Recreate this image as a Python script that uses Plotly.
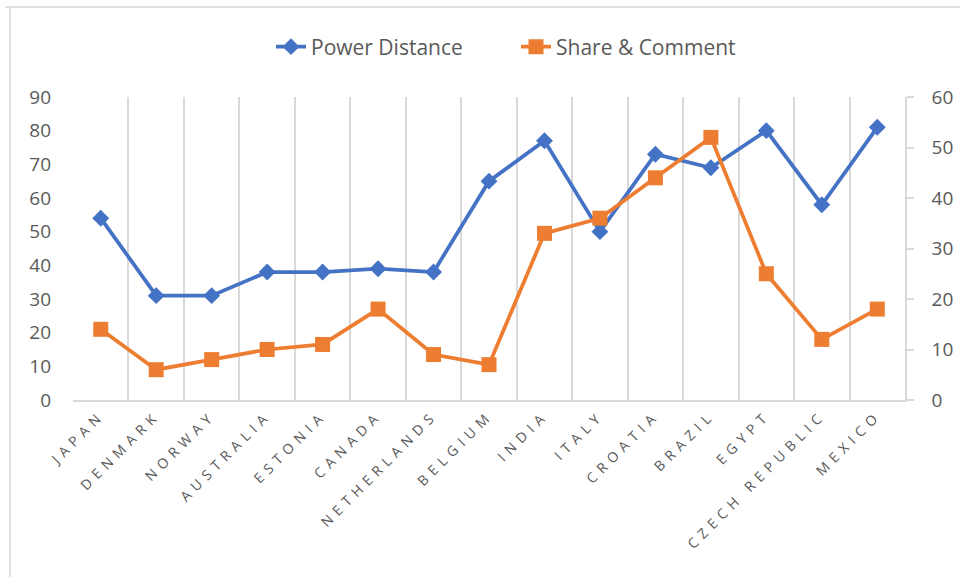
import plotly.graph_objects as go

countries = ["JAPAN", "DENMARK", "NORWAY", "AUSTRALIA", "ESTONIA", "CANADA", "NETHERLANDS",
             "BELGIUM", "INDIA", "ITALY", "CROATIA", "BRAZIL", "EGYPT", "CZECH REPUBLIC", "MEXICO"]
power_distance = [54, 31, 31, 38, 38, 39, 38, 65, 77, 50, 73, 69, 80, 58, 81]
share_comment = [14, 6, 8, 10, 11, 18, 9, 7, 33, 36, 44, 52, 25, 12, 18]

left_ticks = [0, 10, 20, 30, 40, 50, 60, 70, 80, 90]
right_ticks = [0, 10, 20, 30, 40, 50, 60]

BLUE = "#4472C4"
ORANGE = "#ED7D31"
GRID = "#D9D9D9"
TXT = "#595959"
FONT = "Open Sans"

fig = go.Figure()
fig.add_trace(go.Scatter(
    x=countries, y=power_distance, name="Power Distance", mode="lines+markers",
    line=dict(color=BLUE, width=3.75), marker=dict(symbol="diamond", size=13, color=BLUE),
    yaxis="y"))
fig.add_trace(go.Scatter(
    x=countries, y=share_comment, name="Share & Comment", mode="lines+markers",
    line=dict(color=ORANGE, width=3.75), marker=dict(symbol="square", size=15, color=ORANGE),
    yaxis="y2"))

L, R, T, B = 73, 55, 97, 177
W, H = 960, 577
pw, ph = W - L - R, H - T - B

def px_x(p):
    return (p - L) / pw

def px_y(p):
    return (H - B - p) / ph

fig.update_layout(
    width=W, height=H,
    margin=dict(l=L, r=R, t=T, b=B, autoexpand=False),
    paper_bgcolor="white", plot_bgcolor="white",
    font=dict(family=FONT, color=TXT),
    showlegend=True,
    legend=dict(orientation="h", x=px_x(516), xanchor="center", y=px_y(47), yanchor="middle",
                font=dict(size=21, color=TXT, family=FONT), itemwidth=30, traceorder="normal",
                entrywidth=200, entrywidthmode="pixels"),
    xaxis=dict(type="category", tickson="boundaries", showgrid=True, gridcolor=GRID, gridwidth=1.5,
               showline=True, linecolor=GRID, linewidth=1.5, ticks="", tickangle=-45,
               tickfont=dict(size=14, color=TXT, family=FONT), range=[-0.5, 14.5], fixedrange=True),
    yaxis=dict(range=[0, 90], tickvals=left_ticks, showgrid=False, zeroline=False, showline=False,
               ticks="", tickfont=dict(size=19, color=TXT, family=FONT), ticklabelstandoff=21),
    yaxis2=dict(range=[0, 60], tickvals=right_ticks, overlaying="y", side="right", showgrid=False,
                zeroline=False, showline=True, linecolor=GRID, linewidth=1.5, ticks="outside",
                ticklen=7, tickcolor=GRID, tickwidth=1.5, ticklabelstandoff=14,
                tickfont=dict(size=19, color=TXT, family=FONT)),
    shapes=[
        dict(type="line", xref="paper", yref="paper", x0=px_x(5), x1=px_x(962), y0=px_y(7), y1=px_y(7),
             line=dict(color=GRID, width=1.5)),
        dict(type="line", xref="paper", yref="paper", x0=px_x(10), x1=px_x(10), y0=px_y(7), y1=px_y(580),
             line=dict(color=GRID, width=1.5)),
    ],
)

post = ("var s=document.createElement('style');"
        "s.textContent='html,body{margin:0;padding:0;overflow:hidden}.xtick text{letter-spacing:5.5px}';"
        "document.head.appendChild(s);")

fig.write_html("out.html", post_script=post, config={"displayModeBar": False})
